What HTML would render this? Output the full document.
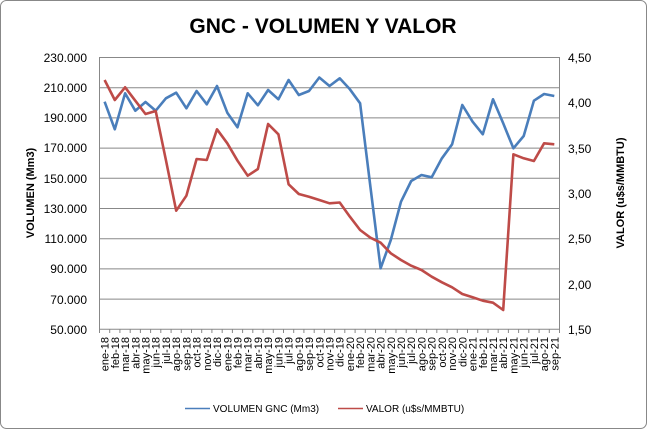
<!DOCTYPE html>
<html><head><meta charset="utf-8"><style>
html,body{margin:0;padding:0;background:#fff;}
svg{display:block;font-family:"Liberation Sans",Arial,sans-serif;}
</style></head><body>
<svg width="647" height="429" viewBox="0 0 647 429">
<rect x="0.5" y="0.5" width="646" height="428" rx="6" fill="#fff" stroke="#888"/>
<text x="323" y="33" text-anchor="middle" font-size="21" font-weight="bold" fill="#000">GNC - VOLUMEN Y VALOR</text>
<g stroke="#888" stroke-width="1">
<line x1="99.5" y1="57.5" x2="559" y2="57.5"/>
<line x1="99.5" y1="87.7" x2="559" y2="87.7"/>
<line x1="99.5" y1="117.9" x2="559" y2="117.9"/>
<line x1="99.5" y1="148.1" x2="559" y2="148.1"/>
<line x1="99.5" y1="178.3" x2="559" y2="178.3"/>
<line x1="99.5" y1="208.5" x2="559" y2="208.5"/>
<line x1="99.5" y1="238.7" x2="559" y2="238.7"/>
<line x1="99.5" y1="268.9" x2="559" y2="268.9"/>
<line x1="99.5" y1="299.1" x2="559" y2="299.1"/>
<line x1="99.5" y1="329.3" x2="559" y2="329.3"/>
<line x1="99.5" y1="57" x2="99.5" y2="333"/>
<line x1="559.5" y1="57" x2="559.5" y2="333"/>
</g>
<path stroke="#888" d="M99.5 329v4M109.7 329v4M119.9 329v4M130.2 329v4M140.4 329v4M150.6 329v4M160.8 329v4M171.1 329v4M181.3 329v4M191.5 329v4M201.7 329v4M211.9 329v4M222.2 329v4M232.4 329v4M242.6 329v4M252.8 329v4M263.1 329v4M273.3 329v4M283.5 329v4M293.7 329v4M303.9 329v4M314.2 329v4M324.4 329v4M334.6 329v4M344.8 329v4M355.1 329v4M365.3 329v4M375.5 329v4M385.7 329v4M396.0 329v4M406.2 329v4M416.4 329v4M426.6 329v4M436.8 329v4M447.1 329v4M457.3 329v4M467.5 329v4M477.7 329v4M488.0 329v4M498.2 329v4M508.4 329v4M518.6 329v4M528.8 329v4M539.1 329v4M549.3 329v4M559.5 329v4"/>
<g font-size="12" fill="#000" text-anchor="end">
<text x="87" y="62">230.000</text><text x="87" y="92">210.000</text><text x="87" y="122">190.000</text>
<text x="87" y="152">170.000</text><text x="87" y="183">150.000</text><text x="87" y="213">130.000</text>
<text x="87" y="243">110.000</text><text x="87" y="273">90.000</text><text x="87" y="304">70.000</text>
<text x="87" y="334">50.000</text>
</g>
<g font-size="12" fill="#000">
<text x="568" y="62">4,50</text><text x="568" y="107">4,00</text><text x="568" y="153">3,50</text>
<text x="568" y="198">3,00</text><text x="568" y="243">2,50</text><text x="568" y="289">2,00</text>
<text x="568" y="334">1,50</text>
</g>
<text transform="translate(34,193) rotate(-90)" text-anchor="middle" font-size="11" font-weight="bold">VOLUMEN (Mm3)</text>
<text transform="translate(624,193) rotate(-90)" text-anchor="middle" font-size="11" font-weight="bold">VALOR (u$s/MMBTU)</text>
<g font-size="11" fill="#000" text-anchor="end">
<text transform="translate(108.6,337) rotate(-90)">ene-18</text>
<text transform="translate(118.8,337) rotate(-90)">feb-18</text>
<text transform="translate(129.1,337) rotate(-90)">mar-18</text>
<text transform="translate(139.3,337) rotate(-90)">abr-18</text>
<text transform="translate(149.5,337) rotate(-90)">may-18</text>
<text transform="translate(159.7,337) rotate(-90)">jun-18</text>
<text transform="translate(169.9,337) rotate(-90)">jul-18</text>
<text transform="translate(180.2,337) rotate(-90)">ago-18</text>
<text transform="translate(190.4,337) rotate(-90)">sep-18</text>
<text transform="translate(200.6,337) rotate(-90)">oct-18</text>
<text transform="translate(210.8,337) rotate(-90)">nov-18</text>
<text transform="translate(221.0,337) rotate(-90)">dic-18</text>
<text transform="translate(231.3,337) rotate(-90)">ene-19</text>
<text transform="translate(241.5,337) rotate(-90)">feb-19</text>
<text transform="translate(251.7,337) rotate(-90)">mar-19</text>
<text transform="translate(261.9,337) rotate(-90)">abr-19</text>
<text transform="translate(272.1,337) rotate(-90)">may-19</text>
<text transform="translate(282.4,337) rotate(-90)">jun-19</text>
<text transform="translate(292.6,337) rotate(-90)">jul-19</text>
<text transform="translate(302.8,337) rotate(-90)">ago-19</text>
<text transform="translate(313.0,337) rotate(-90)">sep-19</text>
<text transform="translate(323.3,337) rotate(-90)">oct-19</text>
<text transform="translate(333.5,337) rotate(-90)">nov-19</text>
<text transform="translate(343.7,337) rotate(-90)">dic-19</text>
<text transform="translate(353.9,337) rotate(-90)">ene-20</text>
<text transform="translate(364.1,337) rotate(-90)">feb-20</text>
<text transform="translate(374.4,337) rotate(-90)">mar-20</text>
<text transform="translate(384.6,337) rotate(-90)">abr-20</text>
<text transform="translate(394.8,337) rotate(-90)">may-20</text>
<text transform="translate(405.0,337) rotate(-90)">jun-20</text>
<text transform="translate(415.2,337) rotate(-90)">jul-20</text>
<text transform="translate(425.5,337) rotate(-90)">ago-20</text>
<text transform="translate(435.7,337) rotate(-90)">sep-20</text>
<text transform="translate(445.9,337) rotate(-90)">oct-20</text>
<text transform="translate(456.1,337) rotate(-90)">nov-20</text>
<text transform="translate(466.3,337) rotate(-90)">dic-20</text>
<text transform="translate(476.6,337) rotate(-90)">ene-21</text>
<text transform="translate(486.8,337) rotate(-90)">feb-21</text>
<text transform="translate(497.0,337) rotate(-90)">mar-21</text>
<text transform="translate(507.2,337) rotate(-90)">abr-21</text>
<text transform="translate(517.4,337) rotate(-90)">may-21</text>
<text transform="translate(527.7,337) rotate(-90)">jun-21</text>
<text transform="translate(537.9,337) rotate(-90)">jul-21</text>
<text transform="translate(548.1,337) rotate(-90)">ago-21</text>
<text transform="translate(558.3,337) rotate(-90)">sep-21</text>
</g>
<polyline fill="none" stroke="#4a7ebb" stroke-width="2.6" stroke-linejoin="round" points="104.6,101.7 114.8,129.3 125.1,93.3 135.3,110.7 145.5,102 155.7,110.7 165.9,98.3 176.2,92.7 186.4,108.3 196.6,91 206.8,104.3 217.0,86 227.3,112.7 237.5,127.3 247.7,93.3 257.9,105.3 268.1,90 278.4,99.3 288.6,80 298.8,95 309.0,91 319.3,77.5 329.5,86 339.7,78.3 349.9,89.3 360.1,103.3 370.4,186.7 380.6,268.3 390.8,240 401.0,201.7 411.2,181 421.5,175 431.7,177.3 441.9,158.3 452.1,144.3 462.3,105 472.6,121.7 482.8,134.3 493.0,99.3 503.2,123.3 513.4,148.3 523.7,136 533.9,100.7 544.1,94 554.3,96"/>
<polyline fill="none" stroke="#be4b48" stroke-width="2.6" stroke-linejoin="round" points="104.6,80 114.8,100 125.1,87.3 135.3,100.7 145.5,114 155.7,111 165.9,160 176.2,210.7 186.4,195.7 196.6,159 206.8,160 217.0,129.3 227.3,143.3 237.5,160.7 247.7,175.7 257.9,169 268.1,124 278.4,134.3 288.6,184.3 298.8,194 309.0,196.7 319.3,200 329.5,203.3 339.7,202.5 349.9,216.7 360.1,230 370.4,237.7 380.6,242.7 390.8,253.3 401.0,260 411.2,265.7 421.5,270 431.7,276.7 441.9,282.3 452.1,287.3 462.3,294 472.6,297.3 482.8,300.7 493.0,302.7 503.2,310 513.4,154.3 523.7,158.3 533.9,161 544.1,143.3 554.3,144.3"/>
<line x1="185" y1="408.5" x2="210" y2="408.5" stroke="#4a7ebb" stroke-width="1.5"/>
<text x="213" y="412" font-size="10">VOLUMEN  GNC (Mm3)</text>
<line x1="338" y1="408.5" x2="363" y2="408.5" stroke="#be4b48" stroke-width="1.5"/>
<text x="366" y="412" font-size="10">VALOR (u$s/MMBTU)</text>
</svg>
</body></html>
